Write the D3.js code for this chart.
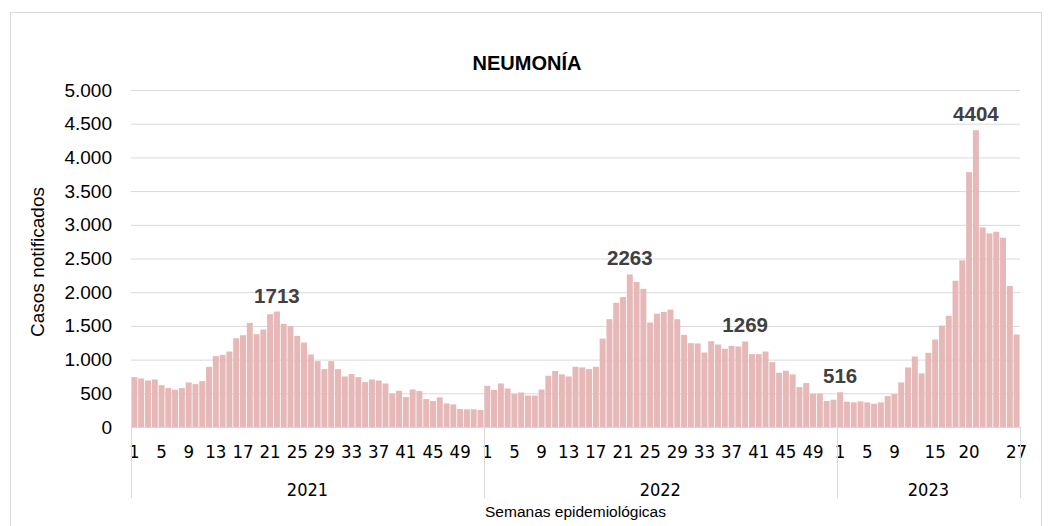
<!DOCTYPE html>
<html><head><meta charset="utf-8">
<script src="https://cdn.jsdelivr.net/npm/d3@7"></script>
<style>body{margin:0;background:#fff}svg{display:block}</style>
</head><body>
<svg id="c" width="1052" height="526"></svg>
<script>
const years = ["2021","2022","2023"];
const cases2021 = [740,720,690,705,620,578,553,578,660,636,680,893,1051,1071,1120,1317,1362,1545,1377,1446,1673,1713,1530,1495,1352,1253,1076,977,859,977,859,750,785,740,666,705,690,646,494,538,444,557,533,414,385,439,350,336,266,262,262,252];
const cases2022 = [611,551,646,571,492,512,467,467,556,760,830,780,750,894,884,859,894,1311,1600,1843,1927,2263,2150,2050,1550,1680,1708,1742,1599,1367,1244,1240,1105,1273,1224,1160,1204,1194,1269,1081,1081,1120,962,805,834,780,592,652,494,494,385,405];
const cases2023 = [516,375,365,380,365,345,365,459,489,661,883,1046,795,1100,1298,1505,1650,2170,2473,3781,4404,2961,2873,2897,2809,2093,1372];
const tickWeeks2021 = [1,5,9,13,17,21,25,29,33,37,41,45,49];
const tickWeeks2022 = [1,5,9,13,17,21,25,29,33,37,41,45,49];
const tickWeeks2023 = [1,5,9,15,20,27];
const labelledPoints = [["2021",22],["2022",22],["2022",39],["2023",1],["2023",21]];
const yTicks = [0,500,1000,1500,2000,2500,3000,3500,4000,4500,5000];

const series = {"2021":cases2021,"2022":cases2022,"2023":cases2023};
const tickSets = {"2021":tickWeeks2021,"2022":tickWeeks2022,"2023":tickWeeks2023};
const data = [];
years.forEach(y => series[y].forEach((v,i) => data.push({year:y, week:i+1, key:y+"-"+(i+1), value:v})));

const svg = d3.select("#c");
const L = 131, R = 1020, T = 90, B = 427;
const x = d3.scaleBand().domain(data.map(d=>d.key)).range([L,R]).paddingInner(0.12).paddingOuter(0.06);
const y = d3.scaleLinear().domain([0,5000]).range([B,T]);
const loc = d3.formatLocale({decimal:",", thousands:".", grouping:[3], currency:["",""]});
const fmt = loc.format(",");

// outer frame
svg.append("rect").attr("x",10.5).attr("y",12.5).attr("width",1031).attr("height",530)
  .attr("fill","none").attr("stroke","#d9d9d9");

// gridlines + y labels
const yAxis = d3.axisLeft(y).tickValues(yTicks).tickFormat(fmt).tickSize(-(R-L)).tickPadding(19);
const gy = svg.append("g").attr("transform",`translate(${L},0)`).call(yAxis);
gy.select(".domain").remove();
gy.selectAll(".tick line").attr("stroke","#d9d9d9").attr("stroke-width",1);
gy.selectAll(".tick text").attr("font-family","Liberation Sans, Arial, sans-serif").attr("font-size",19).attr("fill","#000");

// bars
svg.append("g").selectAll("rect").data(data).join("rect")
  .attr("x",d=>x(d.key)).attr("width",x.bandwidth())
  .attr("y",d=>y(d.value)).attr("height",d=>B-y(d.value))
  .attr("fill","#e6b8b7");

// baseline
svg.append("line").attr("x1",L).attr("x2",R).attr("y1",B+0.5).attr("y2",B+0.5).attr("stroke","#d9d9d9");

// week tick labels
const step = x.step(), pad = step*x.paddingInner()/2;
const tickData = [];
years.forEach(yr => tickSets[yr].forEach(w => tickData.push({key:yr+"-"+w, w})));
const xAxis = d3.axisBottom(x).tickValues(tickData.map(d=>d.key)).tickFormat(k=>k.split("-")[1]).tickSize(0).tickPadding(18);
const gx = svg.append("g").attr("transform",`translate(0,${B})`).call(xAxis);
gx.select(".domain").remove();
gx.selectAll(".tick text").attr("font-family","Liberation Sans Narrow, DejaVu Sans Condensed, Arial Narrow, sans-serif")
  .attr("font-size",18.5).attr("fill","#000");

// year separators and labels
const bounds = years.map(yr => x(yr+"-1") - pad);
bounds.push(x(years[2]+"-"+series["2023"].length) + x.bandwidth() + pad);
svg.append("g").selectAll("line").data(bounds).join("line")
  .attr("x1",d=>Math.round(d)+0.5).attr("x2",d=>Math.round(d)+0.5).attr("y1",B).attr("y2",498)
  .attr("stroke","#d9d9d9");
svg.append("g").selectAll("text").data(years).join("text")
  .attr("x",(d,i)=>(bounds[i]+bounds[i+1])/2).attr("y",496)
  .attr("text-anchor","middle")
  .attr("font-family","Liberation Sans Narrow, DejaVu Sans Condensed, Arial Narrow, sans-serif")
  .attr("font-size",18).attr("fill","#000").text(d=>d);

// data labels
svg.append("g").selectAll("text").data(labelledPoints).join("text")
  .attr("x",d=>x(d[0]+"-"+d[1]) + x.bandwidth()/2)
  .attr("y",d=>y(series[d[0]][d[1]-1]) - 9)
  .attr("text-anchor","middle").attr("font-family","Liberation Sans, Arial, sans-serif")
  .attr("font-weight","bold").attr("font-size",20.5).attr("fill","#404040")
  .text(d=>series[d[0]][d[1]-1]);

// title
svg.append("text").attr("x",527).attr("y",70).attr("text-anchor","middle")
  .attr("font-family","Liberation Sans, Arial, sans-serif").attr("font-weight","bold")
  .attr("font-size",20).attr("fill","#000").text("NEUMONÍA");

// y axis title
svg.append("text").attr("transform","translate(44,262) rotate(-90)").attr("text-anchor","middle")
  .attr("font-family","Liberation Sans, Arial, sans-serif").attr("font-size",19).attr("fill","#000")
  .text("Casos notificados");

// x axis title
svg.append("text").attr("x",(L+R)/2).attr("y",517).attr("text-anchor","middle")
  .attr("font-family","Liberation Sans, Arial, sans-serif").attr("font-size",15.5).attr("fill","#000")
  .text("Semanas epidemiológicas");
</script>
</body></html>
